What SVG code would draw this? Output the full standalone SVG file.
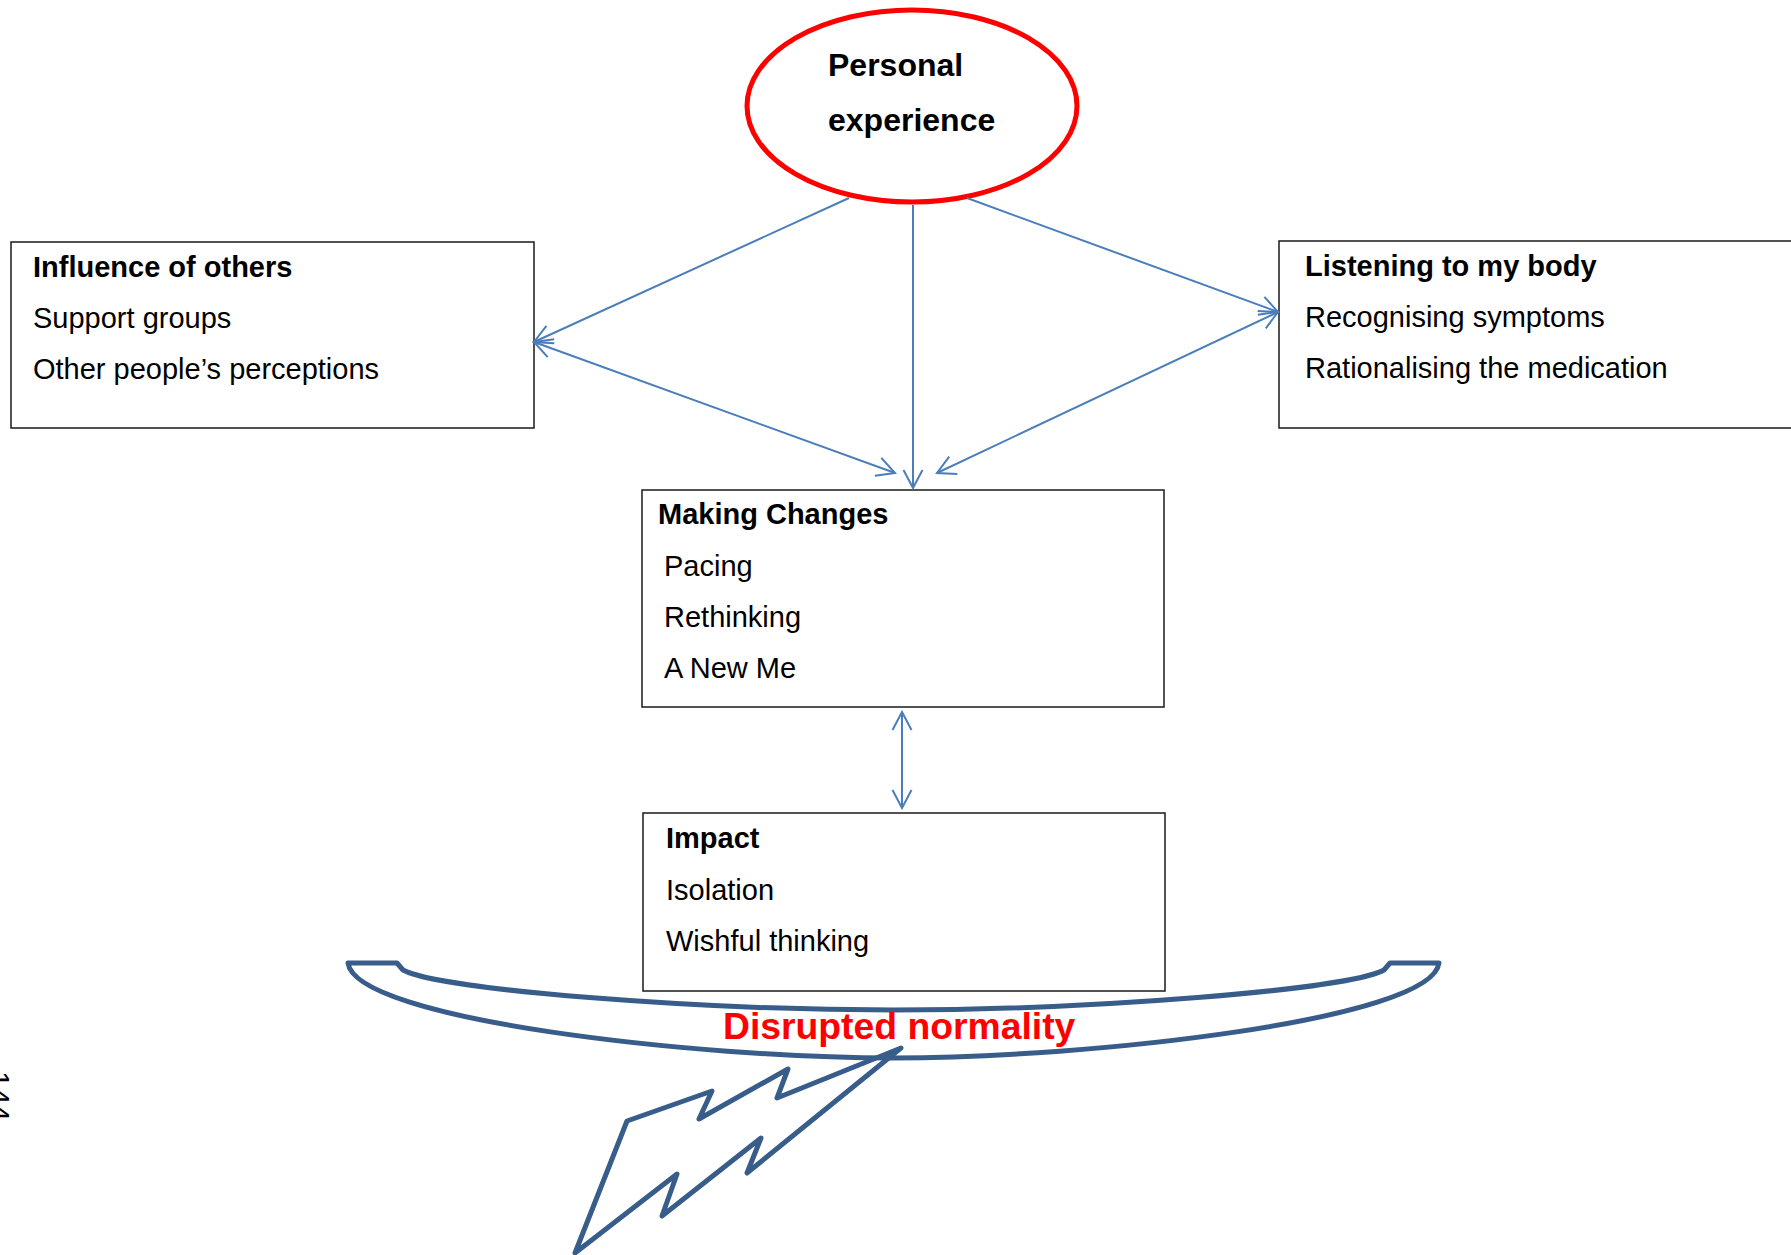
<svg xmlns="http://www.w3.org/2000/svg" width="1791" height="1255" viewBox="0 0 1791 1255">
  <style>
    .box { fill: #ffffff; stroke: #1a1a1a; stroke-width: 1.5; }
    .title { font-family: "Liberation Sans", Arial, sans-serif; font-weight: bold; font-size: 29px; fill: #000000; }
    .item { font-family: "Liberation Sans", Arial, sans-serif; font-size: 29px; fill: #000000; }
    .big { font-size: 32px; }
    .link { fill: none; stroke: #4a7ebb; stroke-width: 2; }
    .shape { fill: none; stroke: #385d8a; stroke-width: 5; stroke-linejoin: round; }
  </style>
  <defs>
    <marker id="open-arrow" viewBox="-20 -11 22 22" refX="0" refY="0" markerWidth="22" markerHeight="22" markerUnits="userSpaceOnUse" orient="auto-start-reverse">
      <path d="M-18,-9.5 L0,0 L-18,9.5" fill="none" stroke="#4a7ebb" stroke-width="2"/>
    </marker>
  </defs>

  <rect width="1791" height="1255" fill="#ffffff"/>

  <!-- central theme -->
  <g id="personal-experience">
    <ellipse cx="912" cy="106" rx="165" ry="96" fill="#ffffff" stroke="#ff0000" stroke-width="5"/>
    <text class="title big" x="828" y="76">Personal</text>
    <text class="title big" x="828" y="131">experience</text>
  </g>

  <g id="influence-of-others">
    <rect class="box" x="11" y="242" width="523" height="186"/>
    <text class="title" x="33" y="277">Influence of others</text>
    <text class="item" x="33" y="328">Support groups</text>
    <text class="item" x="33" y="379">Other people’s perceptions</text>
  </g>

  <g id="listening-to-my-body">
    <rect class="box" x="1279" y="241" width="600" height="187"/>
    <text class="title" x="1305" y="276">Listening to my body</text>
    <text class="item" x="1305" y="327">Recognising symptoms</text>
    <text class="item" x="1305" y="378">Rationalising the medication</text>
  </g>

  <g id="making-changes">
    <rect class="box" x="642" y="490" width="522" height="217"/>
    <text class="title" x="658" y="524">Making Changes</text>
    <text class="item" x="664" y="576">Pacing</text>
    <text class="item" x="664" y="627">Rethinking</text>
    <text class="item" x="664" y="678">A New Me</text>
  </g>

  <g id="impact">
    <rect class="box" x="643" y="813" width="522" height="178"/>
    <text class="title" x="666" y="848">Impact</text>
    <text class="item" x="666" y="900">Isolation</text>
    <text class="item" x="666" y="951">Wishful thinking</text>
  </g>

  <!-- disrupted normality: curved band with a lightning bolt beneath -->
  <g id="disrupted-normality">
    <path class="shape" d="M348,963 L397,963 L403,970 C440,990 700,1010 893.5,1010 C1087,1010 1347,990 1384,970 L1390,963 L1439,963 C1432,1020 1088,1058 893.5,1058 C699,1058 355,1020 348,963 Z"/>
    <text x="723" y="1039" font-family="'Liberation Sans', Arial, sans-serif" font-weight="bold" font-size="37.3" fill="#ff0000">Disrupted normality</text>
    <path class="shape" d="M901,1048 L747,1173 L761,1138 L662,1216 L677,1174 L575,1253 L627,1121 L712,1091 L699,1119 L788,1069 L777,1098 Z"/>
  </g>

  <!-- page number along the margin -->
  <text transform="translate(-11,1071) rotate(90)" font-family="'Liberation Sans', Arial, sans-serif" font-size="30" fill="#000000">144</text>

  <g id="connectors">
    <line class="link" x1="849" y1="198" x2="534" y2="342" marker-end="url(#open-arrow)"/>
    <line class="link" x1="534" y1="342" x2="895" y2="473" marker-start="url(#open-arrow)" marker-end="url(#open-arrow)"/>
    <line class="link" x1="913" y1="205" x2="913" y2="488" marker-end="url(#open-arrow)"/>
    <line class="link" x1="967" y1="198" x2="1278" y2="312" marker-end="url(#open-arrow)"/>
    <line class="link" x1="1278" y1="312" x2="937" y2="473" marker-start="url(#open-arrow)" marker-end="url(#open-arrow)"/>
    <line class="link" x1="902" y1="712" x2="902" y2="808" marker-start="url(#open-arrow)" marker-end="url(#open-arrow)"/>
  </g>
</svg>
